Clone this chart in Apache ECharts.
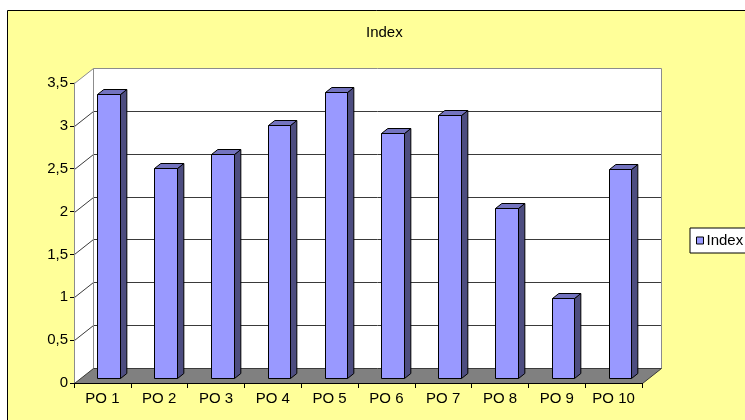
<!DOCTYPE html>
<html>
<head>
<meta charset="utf-8">
<script src="https://cdn.jsdelivr.net/npm/echarts@6/dist/echarts.min.js"></script>
<style>
  html, body { margin: 0; padding: 0; background: #ffffff; }
  #chart { width: 745px; height: 420px; }
</style>
</head>
<body>
<div id="chart"></div>
<script>
// Category names and the index value of each purchase order
const categories = ['PO 1', 'PO 2', 'PO 3', 'PO 4', 'PO 5', 'PO 6', 'PO 7', 'PO 8', 'PO 9', 'PO 10'];
const indexValues = [3.31, 2.45, 2.61, 2.95, 3.34, 2.86, 3.07, 1.98, 0.93, 2.44];
const seriesName = 'Index';
const axisMin = 0;
const axisMax = 3.5;
const axisStep = 0.5;

// Pseudo-3D geometry: full depth of the floor and side wall, and where a bar sits in that depth
const DEPTH_X = 19;
const DEPTH_Y = -15;
const BAR_FRONT = 1 / 3;
const BAR_BACK = 2 / 3;
const BAR_WIDTH_RATIO = 0.4;
const FONT = "'Liberation Sans', Arial, Helvetica, sans-serif";

const crisp = v => Math.round(v) + 0.5;

// Back wall, left side wall, gridlines and floor
function renderWalls(params, api) {
  const cs = params.coordSys;
  const x0 = crisp(cs.x);
  const x1 = crisp(cs.x + cs.width);
  const yOf = v => crisp(api.coord([0, v])[1]);
  const y0 = yOf(axisMin);
  const yTop = yOf(axisMax);
  const children = [];

  // side wall
  children.push({
    type: 'polygon',
    shape: { points: [[x0, yTop], [x0 + DEPTH_X, yTop + DEPTH_Y], [x0 + DEPTH_X, y0 + DEPTH_Y], [x0, y0]] },
    style: { fill: '#ffffff', stroke: null }
  });
  // back wall
  children.push({
    type: 'rect',
    shape: { x: x0 + DEPTH_X, y: yTop + DEPTH_Y, width: x1 - x0, height: y0 - yTop },
    style: { fill: '#ffffff', stroke: null }
  });
  // gridlines running along side wall and back wall
  for (let v = axisMin + axisStep; v < axisMax - 1e-9; v += axisStep) {
    const y = yOf(v);
    children.push({
      type: 'polyline',
      shape: { points: [[x0, y], [x0 + DEPTH_X, y + DEPTH_Y], [x1 + DEPTH_X, y + DEPTH_Y]] },
      style: { fill: null, stroke: '#3a3a3a', lineWidth: 1 }
    });
  }
  // wall outlines
  children.push({
    type: 'polyline',
    shape: { points: [[x0, y0], [x0, yTop], [x0 + DEPTH_X, yTop + DEPTH_Y], [x1 + DEPTH_X, yTop + DEPTH_Y], [x1 + DEPTH_X, y0 + DEPTH_Y]] },
    style: { fill: null, stroke: '#8c8c8c', lineWidth: 1 }
  });
  children.push({
    type: 'line',
    shape: { x1: x0 + DEPTH_X, y1: yTop + DEPTH_Y, x2: x0 + DEPTH_X, y2: y0 + DEPTH_Y },
    style: { stroke: '#8c8c8c', lineWidth: 1 }
  });
  // floor
  children.push({
    type: 'polygon',
    shape: { points: [[x0, y0], [x1, y0], [x1 + DEPTH_X, y0 + DEPTH_Y], [x0 + DEPTH_X, y0 + DEPTH_Y]] },
    style: { fill: '#808080', stroke: '#3a3a3a', lineWidth: 1 }
  });
  return { type: 'group', children: children };
}

// One box per category: front face, right side and top
function renderBar(params, api) {
  const i = api.value(0);
  const v = api.value(1);
  const base = api.coord([i, axisMin]);
  const top = api.coord([i, v]);
  const band = api.size([1, 0])[0];
  const w = band * BAR_WIDTH_RATIO;
  const fdx = DEPTH_X * BAR_FRONT;
  const fdy = DEPTH_Y * BAR_FRONT;
  const sdx = DEPTH_X * (BAR_BACK - BAR_FRONT);
  const sdy = DEPTH_Y * (BAR_BACK - BAR_FRONT);
  const xl = crisp(base[0] - w / 2 + fdx);
  const xr = crisp(base[0] + w / 2 + fdx);
  const yb = crisp(base[1] + fdy);
  const yt = crisp(top[1] + fdy);
  const edge = { stroke: '#000000', lineWidth: 1, lineJoin: 'miter' };
  return {
    type: 'group',
    children: [
      {
        type: 'polygon',
        shape: { points: [[xr, yt], [xr + sdx, yt + sdy], [xr + sdx, yb + sdy], [xr, yb]] },
        style: Object.assign({ fill: '#4d4d80' }, edge)
      },
      {
        type: 'polygon',
        shape: { points: [[xl, yt], [xl + sdx, yt + sdy], [xr + sdx, yt + sdy], [xr, yt]] },
        style: Object.assign({ fill: '#7373bf' }, edge)
      },
      {
        type: 'rect',
        shape: { x: xl, y: yt, width: xr - xl, height: yb - yt },
        style: Object.assign({ fill: api.visual('color') }, edge)
      }
    ]
  };
}

const chart = echarts.init(document.getElementById('chart'), null, { renderer: 'canvas' });

chart.setOption({
  animation: false,
  backgroundColor: '#ffffff',
  graphic: [{
    type: 'rect',
    z: -10,
    silent: true,
    shape: { x: 7.5, y: 10.5, width: 800, height: 500 },
    style: { fill: '#ffff99', stroke: '#000000', lineWidth: 1 }
  }],
  title: {
    text: 'Index',
    left: 366,
    top: 25,
    padding: 0,
    textStyle: { fontFamily: FONT, fontSize: 15, fontWeight: 'normal', color: '#000000' }
  },
  legend: {
    data: [seriesName],
    left: 690,
    top: 228,
    icon: 'rect',
    itemWidth: 7,
    itemHeight: 7,
    padding: [5, 8, 5, 6],
    backgroundColor: '#ffffff',
    borderColor: '#000000',
    borderWidth: 1,
    borderRadius: 0,
    itemStyle: { borderColor: '#000000', borderWidth: 1 },
    textStyle: { fontFamily: FONT, fontSize: 15, color: '#000000', padding: [0, 0, 0, -2] }
  },
  grid: {
    left: 74,
    top: 83,
    width: 568,
    height: 300,
    containLabel: false
  },
  xAxis: {
    type: 'category',
    data: categories,
    boundaryGap: true,
    axisLine: { show: true, lineStyle: { color: '#000000', width: 1 } },
    axisTick: { show: true, length: 5, lineStyle: { color: '#000000' } },
    axisLabel: { interval: 0, margin: 8, fontFamily: FONT, fontSize: 15, color: '#000000' },
    splitLine: { show: false },
    z: 5
  },
  yAxis: {
    type: 'value',
    min: axisMin,
    max: axisMax,
    interval: axisStep,
    axisLine: { show: true, lineStyle: { color: '#8c8c8c', width: 1 } },
    axisTick: { show: true, length: 4, lineStyle: { color: '#000000' } },
    axisLabel: {
      margin: 6,
      fontFamily: FONT,
      fontSize: 15,
      color: '#000000',
      formatter: v => String(v).replace('.', ',')
    },
    splitLine: { show: false },
    z: 5
  },
  series: [
    {
      type: 'custom',
      name: 'walls',
      silent: true,
      z: 1,
      data: [[0, 0]],
      renderItem: renderWalls
    },
    {
      type: 'custom',
      name: seriesName,
      z: 3,
      itemStyle: { color: '#9999ff' },
      data: indexValues.map((v, i) => [i, v]),
      renderItem: renderBar
    }
  ]
});
</script>
</body>
</html>
